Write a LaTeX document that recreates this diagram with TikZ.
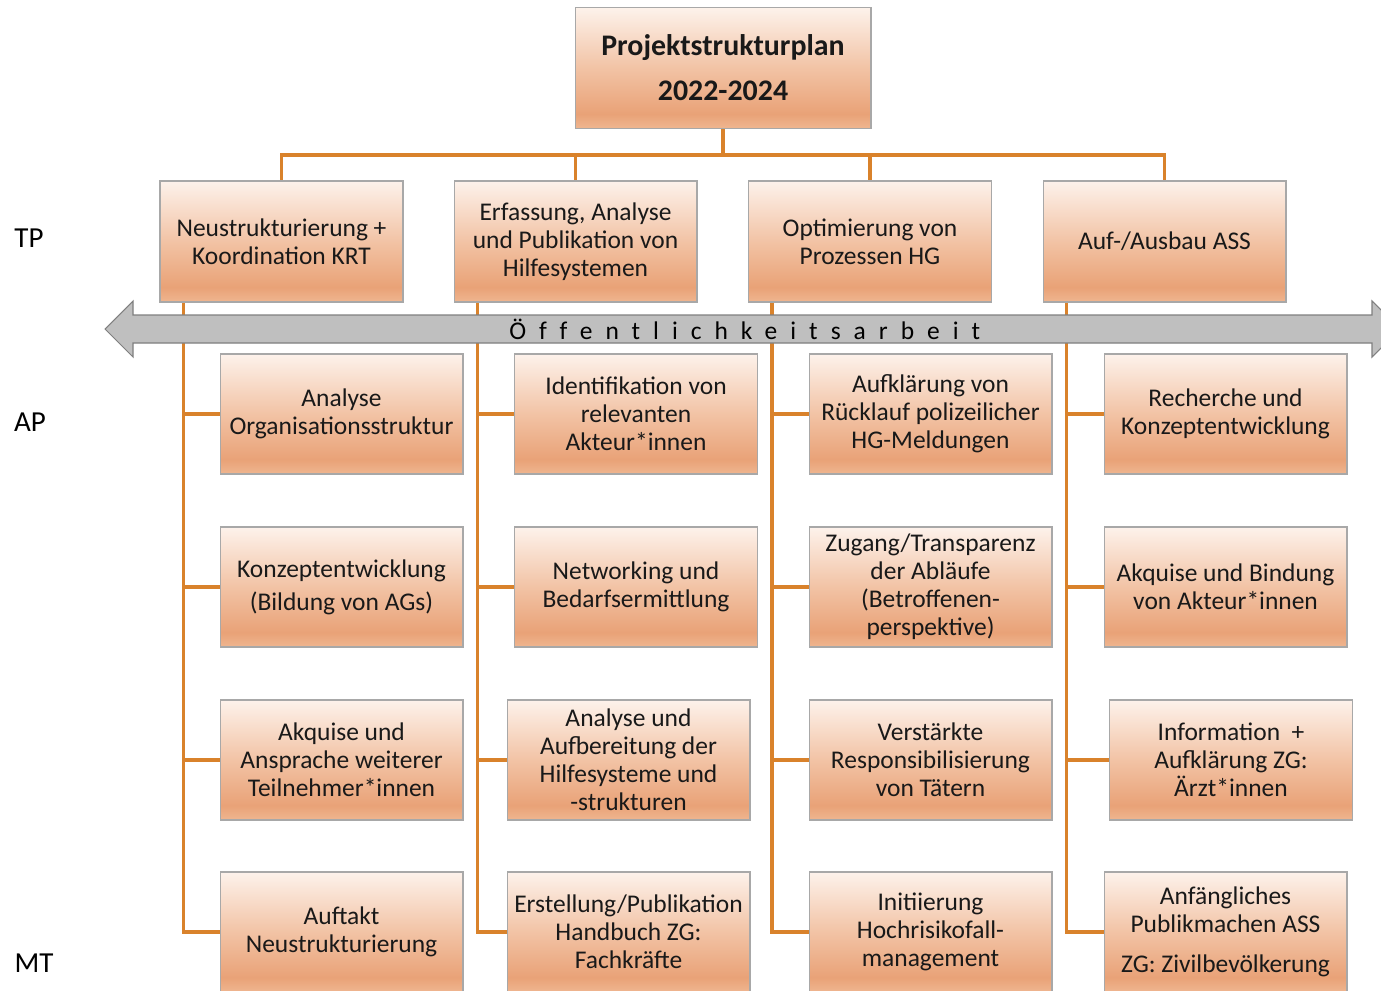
\documentclass[tikz,border=0pt]{standalone}
\usepackage{fontspec}
\setmainfont{Carlito}
\usetikzlibrary{positioning}
\pgfdeclarelayer{background}
\pgfsetlayers{background,main}
\definecolor{linkorange}{HTML}{D9822B}
\definecolor{boxline}{HTML}{A8A8A8}
\definecolor{shbot}{HTML}{EFB690}
\definecolor{shdark}{HTML}{E9A277}
\definecolor{shmid}{HTML}{F2C3A5}
\definecolor{shtop}{HTML}{FDF2EB}
\definecolor{arrowfill}{HTML}{BFBFBF}
\definecolor{arrowline}{HTML}{7F7F7F}
\pgfdeclareverticalshading{boxshade}{100bp}{color(0bp)=(shbot); color(25bp)=(shbot); color(31bp)=(shdark); color(50bp)=(shmid); color(75bp)=(shtop); color(100bp)=(shtop)}
\tikzset{box/.style = {draw = boxline, line width = 0.6pt, shade, shading = boxshade, align = center,
    minimum width = 4.86cm, minimum height = 2.4cm, inner sep = 0, text = black!90,
    font = \fontsize{14.5}{15.9}\selectfont}}
\tikzset{link/.style = {draw = linkorange, line width = 2.2pt}}
\tikzset{level/.style = {font = \fontsize{16.5}{18}\selectfont}}

\begin{document}
\begin{tikzpicture}[x = 0.02cm, y = -0.02cm]
    \useasboundingbox (0, 0) rectangle (1381, 990);
    \clip (0, 0) rectangle (1381, 990);

    % nodes
    \node [box, minimum width = 5.92cm, minimum height = 2.42cm, font = \bfseries\fontsize{17}{25.5}\selectfont]
        (psp) at (723, 68) {Projektstrukturplan\\2022-2024};
    \coordinate (bar) at (723, 155);

    \node [box, minimum height = 2.42cm] (tp1) at (281.5, 241.5) {Neustrukturierung +\\Koordination KRT};
    \node [box, minimum height = 2.42cm] (tp2) at (575.5, 241.5) {Erfassung, Analyse\\und Publikation von\\Hilfesystemen};
    \node [box, minimum height = 2.42cm] (tp3) at (870, 241.5) {Optimierung von\\Prozessen HG};
    \node [box, minimum height = 2.42cm] (tp4) at (1164.5, 241.5) {Auf-/Ausbau ASS};

    \node [box] (ap11) at (341.5, 414) {Analyse\\Organisationsstruktur};
    \node [box] (ap12) at (341.5, 587) {Konzeptentwicklung\\[3pt](Bildung von AGs)};
    \node [box] (ap13) at (341.5, 760) {Akquise und\\Ansprache weiterer\\Teilnehmer*innen};
    \node [box] (ap14) at (341.5, 932) {Auftakt\\Neustrukturierung};

    \node [box] (ap21) at (636, 414) {Identifikation von\\relevanten\\Akteur*innen};
    \node [box] (ap22) at (636, 587) {Networking und\\Bedarfsermittlung};
    \node [box] (ap23) at (628.5, 760) {Analyse und\\Aufbereitung der\\Hilfesysteme und\\-strukturen};
    \node [box] (ap24) at (628.5, 932) {Erstellung/Publikation\\Handbuch ZG:\\Fachkräfte};

    \node [box] (ap31) at (930.5, 414) {Aufklärung von\\Rücklauf polizeilicher\\HG-Meldungen};
    \node [box] (ap32) at (930.5, 587) {Zugang/Transparenz\\der Abläufe\\(Betroffenen-\\perspektive)};
    \node [box] (ap33) at (930.5, 760) {Verstärkte\\Responsibilisierung\\von Tätern};
    \node [box] (ap34) at (930.5, 932) {Initiierung\\Hochrisikofall-\\management};

    \node [box] (ap41) at (1225.5, 414) {Recherche und\\Konzeptentwicklung};
    \node [box] (ap42) at (1225.5, 587) {Akquise und Bindung\\von Akteur*innen};
    \node [box] (ap43) at (1231, 760) {Information~ +\\Aufklärung ZG:\\Ärzt*innen};
    \node [box] (ap44) at (1225.5, 932) {Anfängliches\\Publikmachen ASS\\[7pt]ZG: Zivilbevölkerung};

    \node [level] (tp) at (29, 238) {TP};
    \node [level] (ap) at (30, 422) {AP};
    \node [level] (mt) at (34, 963) {MT};

    % tree
    \begin{pgfonlayer}{background}
      \draw [link] (psp.south) -- (bar);
      \draw [link] (tp1.north) |- (bar);
      \draw [link] (tp2.north) |- (bar);
      \draw [link] (tp3.north) |- (bar);
      \draw [link] (tp4.north) |- (bar);

      \draw [link] (tp1.south west) ++(24, 0) |- (ap11.west);
      \draw [link] (tp1.south west) ++(24, 0) |- (ap12.west);
      \draw [link] (tp1.south west) ++(24, 0) |- (ap13.west);
      \draw [link] (tp1.south west) ++(24, 0) |- (ap14.west);
      \draw [link] (tp2.south west) ++(24, 0) |- (ap21.west);
      \draw [link] (tp2.south west) ++(24, 0) |- (ap22.west);
      \draw [link] (tp2.south west) ++(24, 0) |- (ap23.west);
      \draw [link] (tp2.south west) ++(24, 0) |- (ap24.west);
      \draw [link] (tp3.south west) ++(24, 0) |- (ap31.west);
      \draw [link] (tp3.south west) ++(24, 0) |- (ap32.west);
      \draw [link] (tp3.south west) ++(24, 0) |- (ap33.west);
      \draw [link] (tp3.south west) ++(24, 0) |- (ap34.west);
      \draw [link] (tp4.south west) ++(24, 0) |- (ap41.west);
      \draw [link] (tp4.south west) ++(24, 0) |- (ap42.west);
      \draw [link] (tp4.south west) ++(24, 0) |- (ap43.west);
      \draw [link] (tp4.south west) ++(24, 0) |- (ap44.west);
    \end{pgfonlayer}

    % Oeffentlichkeitsarbeit
    \draw [fill = arrowfill, draw = arrowline, line width = 0.6pt]
      (105, 329) -- (133, 301) -- (133, 315) -- (1372, 315) -- (1372, 301) -- (1400, 329)
      -- (1372, 357) -- (1372, 343) -- (133, 343) -- (133, 357) -- cycle;
    \node [font = \fontsize{14.5}{16}\selectfont\addfontfeatures{LetterSpace = 51, Ligatures = NoCommon}, anchor = west, inner sep = 0]
      (oea) at (509, 329) {Öffentlichkeitsarbeit};
  \end{tikzpicture}
\end{document}
